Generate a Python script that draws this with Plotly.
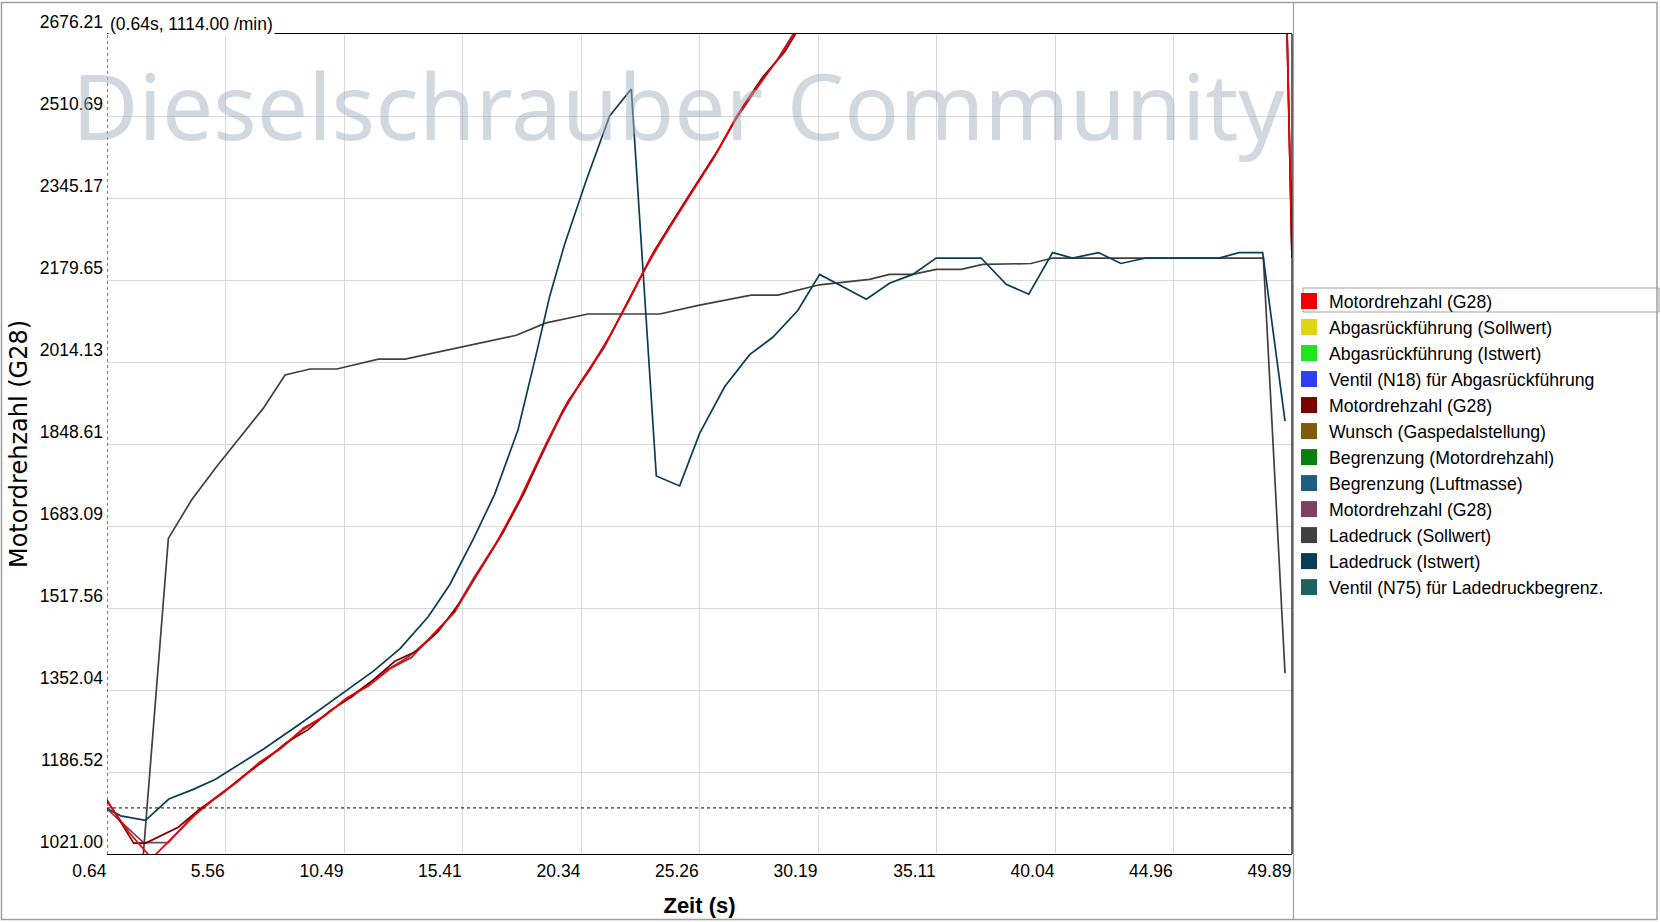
import plotly.graph_objects as go

# ---------------- axis ticks ----------------
x_tick_labels = ["0.64", "5.56", "10.49", "15.41", "20.34", "25.26",
                 "30.19", "35.11", "40.04", "44.96", "49.89"]
y_tick_labels = ["1021.00", "1186.52", "1352.04", "1517.56", "1683.09", "1848.61",
                 "2014.13", "2179.65", "2345.17", "2510.69", "2676.21"]

# ---------------- legend entries ----------------
legend_names = [
    "Motordrehzahl (G28)",
    "Abgasrückführung (Sollwert)",
    "Abgasrückführung (Istwert)",
    "Ventil (N18) für Abgasrückführung",
    "Motordrehzahl (G28)",
    "Wunsch (Gaspedalstellung)",
    "Begrenzung (Motordrehzahl)",
    "Begrenzung (Luftmasse)",
    "Motordrehzahl (G28)",
    "Ladedruck (Sollwert)",
    "Ladedruck (Istwert)",
    "Ventil (N75) für Ladedruckbegrenz.",
]
legend_colors = [
    "#f20000", "#e0d414", "#1ee61e", "#2f3ff0", "#7a0000", "#7f5a08",
    "#0a800a", "#1e5f80", "#7f3f60", "#404040", "#0b3c55", "#1f6060",
]

# ---------------- series ----------------
# Motordrehzahl (G28) - red
rpm_red_t = [0.64, 1.55, 2.50, 3.40, 4.30, 5.20, 6.10, 7.00, 7.90, 8.80, 9.70, 10.60,
             11.50, 12.40, 13.30, 14.20, 15.10, 16.00, 16.90, 17.80, 18.70, 19.60,
             20.50, 21.40, 22.30, 23.20, 24.10, 25.00, 25.90, 26.80, 27.70, 28.60,
             29.50, 30.40, 35.0, 40.0, 45.0, 49.0, 49.89]
rpm_red_v = [1127, 1065, 1012, 1055, 1100, 1136, 1168, 1207, 1236, 1275, 1300, 1336,
             1360, 1395, 1418, 1465, 1510, 1585, 1655, 1738, 1830, 1918,
             1985, 2055, 2135, 2222, 2292, 2362, 2430, 2510, 2572, 2630,
             2700, 2765, 3100, 3500, 3900, 4200, 2228]

# Motordrehzahl (G28) - dark red
rpm_dark_t = [0.64, 1.75, 2.25, 3.60, 4.50, 5.40, 6.30, 7.20, 8.10, 9.00, 9.90, 10.80,
              11.70, 12.60, 13.50, 14.40, 15.30, 16.20, 17.10, 18.00, 18.90, 19.80,
              20.70, 21.60, 22.50, 23.40, 24.30, 25.20, 26.10, 27.00, 27.90, 28.80,
              29.70, 31.0, 35.0, 40.0, 45.0, 49.0, 49.89]
rpm_dark_v = [1130, 1043, 1043, 1075, 1112, 1142, 1178, 1210, 1246, 1272, 1310, 1338,
              1372, 1410, 1430, 1470, 1528, 1600, 1670, 1752, 1850, 1935,
              1998, 2072, 2155, 2240, 2310, 2378, 2447, 2525, 2590, 2640,
              2712, 2810, 3100, 3500, 3900, 4200, 2224]

# Motordrehzahl (G28) - mauve
rpm_mauve_t = [0.64, 2.16, 3.19, 4.20, 5.10, 6.00, 6.90, 7.80, 8.70, 9.60, 10.50,
               11.40, 12.30, 13.20, 14.10, 15.00, 15.90, 16.80, 17.70, 18.60, 19.50,
               20.40, 21.30, 22.20, 23.10, 24.00, 24.90, 25.80, 26.70, 27.60, 28.50,
               29.40, 30.3, 35.0, 40.0, 45.0, 49.0, 49.89]
rpm_mauve_v = [1112, 1044, 1044, 1098, 1133, 1166, 1202, 1232, 1268, 1298, 1330,
               1362, 1393, 1420, 1458, 1505, 1580, 1648, 1725, 1815, 1905,
               1980, 2043, 2128, 2210, 2285, 2355, 2422, 2498, 2563, 2625,
               2695, 2760, 3100, 3500, 3900, 4200, 2224]

# Ladedruck (Sollwert) - grey
boost_set_t = [0.64, 2.10, 3.19, 4.16, 5.20, 6.17, 7.14, 8.04, 9.08, 10.19, 11.92,
               13.03, 14.88, 15.38, 17.65, 18.89, 20.63, 23.61, 25.27, 27.41, 28.52,
               30.25, 32.33, 33.16, 34.13, 35.10, 36.14, 37.04, 39.04, 39.94, 48.70,
               49.60]
boost_set_v = [990, 990, 1658, 1736, 1803, 1863, 1921, 1988, 2000, 2000, 2020,
               2020, 2039, 2045, 2068, 2093, 2111, 2111, 2129, 2149, 2149,
               2170, 2181, 2191, 2191, 2201, 2201, 2211, 2213, 2224, 2224,
               1386]

# Ladedruck (Istwert) - dark teal
boost_act_t = [0.64, 1.21, 2.24, 3.21, 4.25, 5.15, 5.91, 7.15, 8.67, 10.05, 11.71,
               12.81, 13.99, 14.89, 15.90, 16.75, 17.72, 18.48, 19.04, 19.66, 20.56,
               21.53, 22.43, 23.47, 24.44, 25.27, 26.31, 27.35, 28.31, 29.35, 30.26,
               32.20, 33.16, 34.13, 35.10, 36.97, 38.01, 38.95, 39.94, 40.77, 41.85,
               42.78, 43.82, 46.86, 47.69, 48.67, 49.60]
boost_act_v = [1113, 1098, 1089, 1132, 1152, 1172, 1195, 1233, 1284, 1332, 1390,
               1435, 1500, 1565, 1660, 1747, 1877, 2030, 2147, 2252, 2381,
               2511, 2565, 1784, 1764, 1870, 1964, 2029, 2064, 2118, 2191,
               2141, 2173, 2191, 2224, 2224, 2171, 2151, 2235, 2224, 2235,
               2213, 2224, 2224, 2235, 2235, 1895]

# cursor (measurement readout)
cursor_t = 0.64
cursor_v = 1114.00

watermark = "Dieselschrauber Community"

# ---------------- geometry helpers (pixel -> paper) ----------------
W, H = 1661, 922
L, R, T, B = 107, 1292, 34, 854


def px(xp):
    return (xp - L) / (R - L)


def py(yp):
    return (B - yp) / (B - T)


TICK_FONT = dict(family="Liberation Sans, Arial, sans-serif", size=17.5, color="#000000")

fig = go.Figure()

line_series = [
    (boost_set_t, boost_set_v, legend_colors[9], legend_names[9]),
    (boost_act_t, boost_act_v, legend_colors[10], legend_names[10]),
    (rpm_mauve_t, rpm_mauve_v, legend_colors[8], legend_names[8]),
    (rpm_dark_t, rpm_dark_v, legend_colors[4], legend_names[4]),
    (rpm_red_t, rpm_red_v, legend_colors[0], legend_names[0]),
]
for tt, vv, col, nm in line_series:
    fig.add_trace(go.Scatter(x=tt, y=vv, mode="lines", name=nm,
                             line=dict(color=col, width=1.7),
                             showlegend=False, hoverinfo="x+y+name"))

# legend entries with square swatches
for nm, col in zip(legend_names, legend_colors):
    fig.add_trace(go.Scatter(x=[None], y=[None], mode="markers", name=nm,
                             marker=dict(symbol="square", size=16, color=col),
                             showlegend=True, hoverinfo="skip"))

shapes = [
    # outer window frame
    dict(type="rect", xref="paper", yref="paper", x0=px(1.5), x1=px(1657), y0=py(919.5), y1=py(2.5),
         line=dict(color="#a0a0a0", width=1.5), layer="below"),
    # right panel separator
    dict(type="line", xref="paper", yref="paper", x0=px(1293.5), x1=px(1293.5), y0=py(919.5), y1=py(2.5),
         line=dict(color="#a0a0a0", width=1.2), layer="below"),
    # highlight around the first legend item
    dict(type="rect", xref="paper", yref="paper", x0=px(1303), x1=px(1659), y0=py(312), y1=py(288),
         line=dict(color="#a0a0a0", width=1), layer="below"),
    # plot right edge
    dict(type="line", xref="paper", yref="paper", x0=1, x1=1, y0=0, y1=1,
         line=dict(color="#000000", width=1.2)),
    # cursor lines
    dict(type="line", xref="x", yref="paper", x0=cursor_t, x1=cursor_t, y0=0, y1=1,
         line=dict(color="#000000", width=1, dash="3px,3px")),
    dict(type="line", xref="paper", yref="y", x0=0, x1=1, y0=cursor_v, y1=cursor_v,
         line=dict(color="#000000", width=1, dash="3px,3px")),
]

annotations = [
    dict(text=watermark, xref="paper", yref="paper", x=px(678), y=py(105),
         xanchor="center", yanchor="middle", showarrow=False,
         font=dict(family="Noto Sans, Open Sans, sans-serif", size=91,
                   color="rgba(165,178,193,0.5)")),
    dict(text=f"({cursor_t:.2f}s, {cursor_v:.2f} /min)", xref="paper", yref="paper",
         x=px(108), y=py(24), xanchor="left", yanchor="middle", showarrow=False,
         bgcolor="#ffffff", borderpad=1, font=TICK_FONT),
]

fig.update_layout(
    width=W, height=H,
    margin=dict(l=L, r=W - R, t=T, b=H - B, autoexpand=False),
    paper_bgcolor="#ffffff",
    plot_bgcolor="#ffffff",
    showlegend=True,
    legend=dict(x=px(1289), y=py(283), xanchor="left", yanchor="top",
                bgcolor="rgba(0,0,0,0)", borderwidth=0,
                font=dict(family="Liberation Sans, Arial, sans-serif", size=17.7, color="#000000"),
                itemsizing="trace", tracegroupgap=0),
    xaxis=dict(
        range=[float(x_tick_labels[0]), float(x_tick_labels[-1])],
        tickmode="array", tickvals=[float(s) for s in x_tick_labels], ticktext=x_tick_labels,
        ticks="", ticklabelposition="outside left", ticklabelstandoff=1,
        showgrid=True, gridcolor="#d9d9d9", gridwidth=1,
        showline=True, mirror=True, linecolor="#000000", linewidth=1.2,
        zeroline=False, tickfont=TICK_FONT,
        title=dict(text="Zeit (s)", standoff=17,
                   font=dict(family="Liberation Sans, Arial, sans-serif", size=22,
                             color="#000000", weight="bold")),
    ),
    yaxis=dict(
        range=[float(y_tick_labels[0]), float(y_tick_labels[-1])],
        tickmode="array", tickvals=[float(s) for s in y_tick_labels], ticktext=y_tick_labels,
        ticks="", ticklabelposition="outside top", ticklabelstandoff=3,
        showgrid=True, gridcolor="#d9d9d9", gridwidth=1,
        showline=False, zeroline=False, tickfont=TICK_FONT,
        title=dict(text="Motordrehzahl (G28)", standoff=5,
                   font=dict(family="DejaVu Sans, Verdana, sans-serif", size=24, color="#000000")),
    ),
    shapes=shapes,
    annotations=annotations,
)

fig.write_html("out.html", config={"displayModeBar": False},
               post_script="document.body.style.margin='0';")
